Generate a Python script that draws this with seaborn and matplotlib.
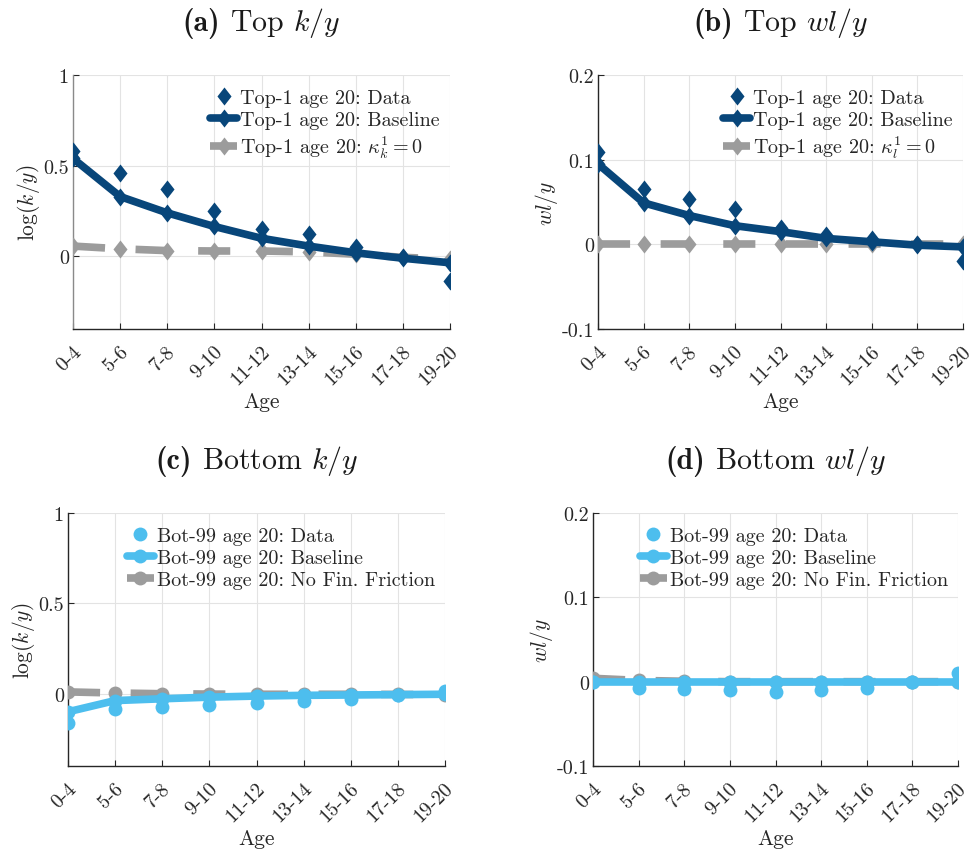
import numpy as np
import pandas as pd
import matplotlib
matplotlib.use("Agg")
import matplotlib.pyplot as plt
import matplotlib.transforms as mtransforms
import seaborn as sns
from matplotlib.path import Path
from matplotlib.offsetbox import TextArea, HPacker, AnchoredOffsetbox

ages = ["0-4", "5-6", "7-8", "9-10", "11-12", "13-14", "15-16", "17-18", "19-20"]

# (a) Top k/y
top_k_data = [0.58, 0.46, 0.37, 0.25, 0.15, 0.125, 0.05, -0.005, -0.135]
top_k_base = [0.54, 0.33, 0.24, 0.165, 0.10, 0.057, 0.02, -0.01, -0.035]
top_k_zero = [0.057, 0.042, 0.032, 0.03, 0.03, 0.025, 0.012, -0.005, -0.015]

# (b) Top wl/y
top_w_data = [0.109, 0.065, 0.054, 0.042, 0.019, 0.011, 0.006, 0.0, -0.02]
top_w_base = [0.095, 0.049, 0.034, 0.022, 0.015, 0.007, 0.003, -0.001, -0.003]
top_w_zero = [0.0, 0.0, 0.0, 0.0, 0.0, 0.0, 0.0, 0.0, 0.0]

# (c) Bottom k/y
bot_k_data = [-0.16, -0.084, -0.075, -0.062, -0.053, -0.043, -0.028, -0.009, 0.015]
bot_k_base = [-0.10, -0.038, -0.028, -0.019, -0.013, -0.009, -0.007, -0.005, -0.003]
bot_k_zero = [0.01, 0.004, 0.0, -0.002, -0.003, -0.003, -0.003, -0.004, -0.005]

# (d) Bottom wl/y
bot_w_data = [0.0, -0.007, -0.009, -0.01, -0.012, -0.01, -0.007, 0.0, 0.01]
bot_w_base = [0.0, 0.0, 0.0, 0.0, 0.0, 0.0, 0.0, 0.0, 0.0]
bot_w_zero = [0.004, 0.0015, 0.0005, 0.0, 0.0, 0.0, 0.0, 0.0, 0.0]

k_ticks = [0.0, 0.5, 1.0]
k_ticklabels = ["0", "0.5", "1"]
w_ticks = [-0.1, 0.0, 0.1, 0.2]
w_ticklabels = ["-0.1", "0", "0.1", "0.2"]

sns.set_style("white")
plt.rcParams["font.family"] = ["serif"]
plt.rcParams["font.serif"] = ["cmr10", "DejaVu Serif"]
plt.rcParams["mathtext.fontset"] = "cm"
plt.rcParams["axes.unicode_minus"] = False
plt.rcParams["axes.formatter.use_mathtext"] = True

NAVY = "#08467A"
LBLUE = "#4DBEEE"
GRAY = "#9C9C9C"

diamond = Path([(0, 1), (0.78, 0), (0, -1), (-0.78, 0), (0, 1)],
               [Path.MOVETO, Path.LINETO, Path.LINETO, Path.LINETO, Path.CLOSEPOLY])

fig = plt.figure(figsize=(9.74, 8.54), dpi=100)

W, H = 974, 854
def rect(l, r, t, b):
    return [l / W, 1 - b / H, (r - l) / W, (b - t) / H]

panels = [
    dict(rect=rect(73, 450, 76, 330), tag="(a)", title=r"Top $k/y$", ylabel=r"$\log(k/y)$",
         data=top_k_data, base=top_k_base, zero=top_k_zero, ylim=(-0.4, 1.0),
         ticks=k_ticks, tl=k_ticklabels, color=NAVY, marker=diamond, ms=13, lspine="#8a8a8a",
         labels=["Top-1 age 20: Data", "Top-1 age 20: Baseline", r"Top-1 age 20: $\kappa_k^1=0$"]),
    dict(rect=rect(598, 963, 76, 330), tag="(b)", title=r"Top $wl/y$", ylabel=r"$wl/y$",
         data=top_w_data, base=top_w_base, zero=top_w_zero, ylim=(-0.1, 0.2),
         ticks=w_ticks, tl=w_ticklabels, color=NAVY, marker=diamond, ms=13, lspine="#262626",
         labels=["Top-1 age 20: Data", "Top-1 age 20: Baseline", r"Top-1 age 20: $\kappa_l^1=0$"]),
    dict(rect=rect(68, 445, 514, 767), tag="(c)", title=r"Bottom $k/y$", ylabel=r"$\log(k/y)$",
         data=bot_k_data, base=bot_k_base, zero=bot_k_zero, ylim=(-0.4, 1.0),
         ticks=k_ticks, tl=k_ticklabels, color=LBLUE, marker="o", ms=10, lspine="#262626",
         labels=["Bot-99 age 20: Data", "Bot-99 age 20: Baseline", "Bot-99 age 20: No Fin. Friction"]),
    dict(rect=rect(593, 958, 514, 767), tag="(d)", title=r"Bottom $wl/y$", ylabel=r"$wl/y$",
         data=bot_w_data, base=bot_w_base, zero=bot_w_zero, ylim=(-0.1, 0.2),
         ticks=w_ticks, tl=w_ticklabels, color=LBLUE, marker="o", ms=10, lspine="#262626",
         labels=["Bot-99 age 20: Data", "Bot-99 age 20: Baseline", "Bot-99 age 20: No Fin. Friction"]),
]

x = np.arange(len(ages))
shift = mtransforms.ScaledTranslation(-0.01, -0.09, fig.dpi_scale_trans)
for p in panels:
    ax = fig.add_axes(p["rect"])
    df = pd.DataFrame({"x": x, "data": p["data"], "base": p["base"], "zero": p["zero"]})
    sns.lineplot(data=df, x="x", y="zero", ax=ax, color=GRAY, lw=5.5, marker=p["marker"],
                 markersize=p["ms"], markeredgewidth=0, dashes=(4.2, 4.0), label=p["labels"][2], zorder=3)
    sns.lineplot(data=df, x="x", y="base", ax=ax, color=p["color"], lw=5.5, marker=p["marker"],
                 markersize=p["ms"], markeredgewidth=0, label=p["labels"][1], zorder=4)
    sns.lineplot(data=df, x="x", y="data", ax=ax, color=p["color"], lw=0, marker=p["marker"],
                 markersize=p["ms"], markeredgewidth=0, label=p["labels"][0], zorder=5)
    ax.set_xlim(0, len(ages) - 1)
    ax.set_ylim(*p["ylim"])
    ax.tick_params(direction="in", length=4, width=0.8, color="#262626", left=True, bottom=True, pad=3)
    ax.set_xticks(x)
    ax.set_xticklabels(ages, rotation=45, ha="right", va="top", rotation_mode="anchor", fontsize=14.5)
    ax.set_yticks(p["ticks"])
    ax.set_yticklabels(p["tl"], fontsize=14.5)
    for tick in ax.xaxis.get_major_ticks():
        tick.label1.set_transform(tick.label1.get_transform() + shift)
    ax.grid(True, color="#e3e3e3", lw=0.8)
    ax.set_axisbelow(True)
    for s in ["top", "right"]:
        ax.spines[s].set_visible(False)
    ax.spines["bottom"].set_color("#262626")
    ax.spines["left"].set_color(p["lspine"])
    for s in ["left", "bottom"]:
        ax.spines[s].set_linewidth(1.0)
    ax.set_xlabel("Age", fontsize=15.5, labelpad=2)
    ax.set_ylabel(p["ylabel"], fontsize=15.5, labelpad=1)

    t1 = TextArea(p["tag"], textprops=dict(family="cmb10", size=21.5, color="#1a1a1a"))
    t2 = TextArea(p["title"], textprops=dict(size=21.5, color="#1a1a1a"))
    box = HPacker(children=[t1, t2], align="baseline", pad=0, sep=7)
    anch = AnchoredOffsetbox(loc="lower center", child=box, frameon=False,
                             bbox_to_anchor=(0.5, 1 + 36 / 254), bbox_transform=ax.transAxes,
                             borderpad=0, pad=0)
    ax.add_artist(anch)

    h, l = ax.get_legend_handles_labels()
    order = [2, 1, 0]
    ax.legend([h[i] for i in order], [l[i] for i in order], loc="upper right",
              bbox_to_anchor=(1.0, 1 - 4 / 254), frameon=False,
              fontsize=14.5, handlelength=1.35, handletextpad=0.15, labelspacing=0.2,
              borderaxespad=0.1, borderpad=0.4)

fig.savefig("out.png", dpi=100)
